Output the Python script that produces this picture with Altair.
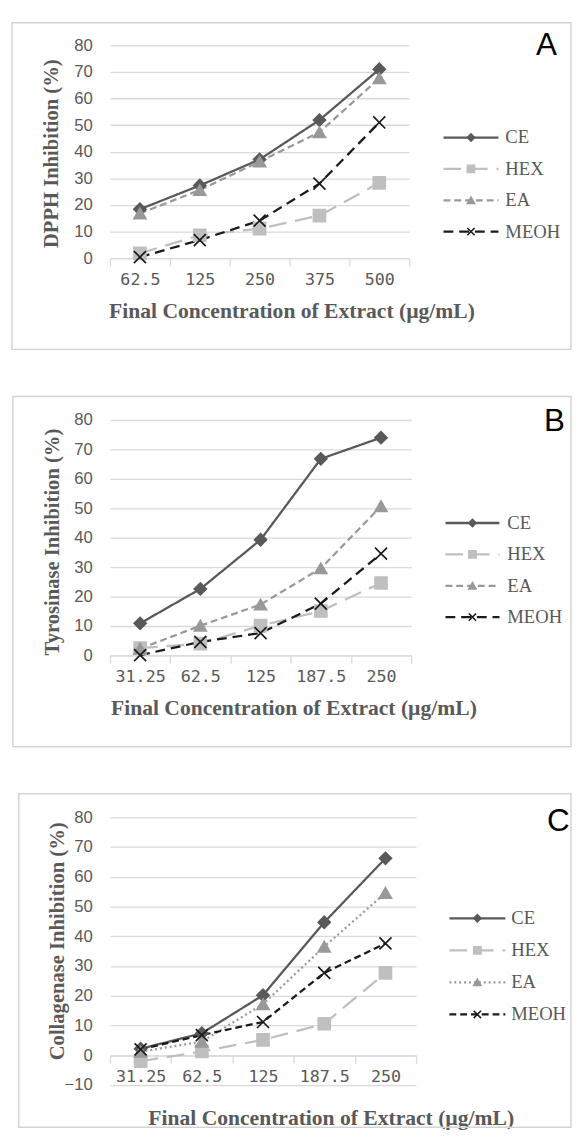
import altair as alt
import pandas as pd

series = ["CE", "HEX", "EA", "MEOH"]
conc_A = ["62.5", "125", "250", "375", "500"]
conc_BC = ["31.25", "62.5", "125", "187.5", "250"]

# Panel A: DPPH inhibition (%)
dpph_CE = [18.4, 27.3, 37.1, 51.9, 71.0]
dpph_HEX = [1.8, 8.6, 11.1, 16.0, 28.3]
dpph_EA = [16.8, 25.6, 36.3, 47.3, 67.6]
dpph_MEOH = [0.4, 6.8, 14.1, 28.0, 51.0]

# Panel B: Tyrosinase inhibition (%)
tyr_CE = [10.9, 22.6, 39.3, 66.8, 74.0]
tyr_HEX = [2.5, 4.0, 10.1, 15.1, 24.6]
tyr_EA = [2.3, 10.1, 17.3, 29.6, 50.7]
tyr_MEOH = [0.1, 4.6, 7.6, 17.6, 34.6]

# Panel C: Collagenase inhibition (%)
col_CE = [2.2, 7.4, 20.2, 44.7, 66.2]
col_HEX = [-2.0, 1.3, 5.2, 10.6, 27.7]
col_EA = [1.2, 4.6, 17.2, 36.5, 54.6]
col_MEOH = [2.0, 6.8, 11.2, 27.7, 37.6]

x_title = "Final Concentration  of Extract  (µg/mL)"

XPATH = "M-1,-1L1,1M-1,1L1,-1"
COLORS = ["#595959", "#bfbfbf", "#999999", "#1a1a1a"]
FILLS = ["#595959", "#bfbfbf", "#999999", "transparent"]
SHAPES = ["diamond", "square", "triangle-up", XPATH]
GRID = "#d9d9d9"
TXT = "#595959"


def long_df(conc, vals):
    rows = []
    for s, v in zip(series, vals):
        for i, (c, y) in enumerate(zip(conc, v)):
            rows.append({"series": s, "conc": c, "idx": i, "value": y})
    return pd.DataFrame(rows)


def panel(conc, vals, y_title, y_domain, y_values, W, H, dashes, p):
    df = long_df(conc, vals)
    stroke_s = alt.Scale(domain=series, range=COLORS)
    dash_s = alt.Scale(domain=series, range=dashes)
    shape_s = alt.Scale(domain=series, range=SHAPES)
    fill_s = alt.Scale(domain=series, range=FILLS)

    x_enc = alt.X(
        "conc:N", sort=conc,
        scale=alt.Scale(type="band", domain=conc, paddingInner=0, paddingOuter=0),
        axis=alt.Axis(
            title=x_title, labelAngle=0, tickBand="extent", grid=False,
            domainColor=GRID, domainWidth=1.3, tickColor=GRID, tickWidth=1.3, tickSize=8,
            labelFont="DejaVu Sans Mono", labelFontSize=17, labelColor=TXT, labelPadding=6,
            titleFont="Liberation Serif", titleFontWeight="bold", titleFontSize=22,
            titleColor=TXT, titleX=p["tx"], titleY=p["ty"], titleAlign="center",
            titleBaseline="middle", offset=p["xoff"],
        ),
    )
    y_enc = alt.Y(
        "value:Q",
        scale=alt.Scale(domain=y_domain, nice=False, zero=False),
        axis=alt.Axis(
            values=y_values, grid=True, gridColor=GRID, gridWidth=1.3, domain=False, ticks=False,
            labelFont="Liberation Sans", labelFontSize=17, labelColor=TXT, labelPadding=18,
            title=y_title, titleFont="Liberation Serif", titleFontWeight="bold",
            titleFontSize=21, titleColor=TXT, titleX=p["yx"], titleY=p["yy"],
            titleAngle=-90, titleBaseline="middle", titleAlign="center",
        ),
    )
    lines = alt.Chart(df).mark_line(strokeWidth=2.3).encode(
        x=x_enc, y=y_enc,
        stroke=alt.Stroke("series:N", scale=stroke_s, legend=None),
        strokeDash=alt.StrokeDash("series:N", scale=dash_s, legend=None),
        order=alt.Order("idx:Q"),
    )
    pts = alt.Chart(df).mark_point(filled=True, opacity=1, size=150, strokeWidth=1.7).encode(
        x=x_enc, y=y_enc,
        shape=alt.Shape("series:N", scale=shape_s, legend=None),
        fill=alt.Fill("series:N", scale=fill_s, legend=None),
        stroke=alt.Stroke("series:N", scale=stroke_s, legend=None),
    )
    data_layer = alt.layer(lines, pts)

    leg_df = pd.DataFrame({"series": series, "rank": [0, 1, 2, 3]})
    ly = alt.Y("rank:Q", scale=alt.Scale(domain=[0, 3], range=p["lrows"]), axis=None)
    lbase = alt.Chart(leg_df).encode(y=ly)
    lrule = lbase.mark_rule(strokeWidth=2.3).encode(
        x=alt.value(p["lx0"]), x2=alt.value(p["lx1"]),
        stroke=alt.Stroke("series:N", scale=stroke_s, legend=None),
        strokeDash=alt.StrokeDash("series:N", scale=dash_s, legend=None),
    )
    lpts = lbase.mark_point(filled=True, opacity=1, size=55, strokeWidth=1.6).encode(
        x=alt.value((p["lx0"] + p["lx1"]) / 2),
        shape=alt.Shape("series:N", scale=shape_s, legend=None),
        fill=alt.Fill("series:N", scale=fill_s, legend=None),
        stroke=alt.Stroke("series:N", scale=stroke_s, legend=None),
    )
    ltxt = lbase.mark_text(align="left", baseline="middle", font="Liberation Serif",
                           fontSize=19, color=TXT).encode(
        x=alt.value(p["ltx"]), text="series:N")
    legend_layer = alt.layer(lrule, lpts, ltxt)

    box = alt.Chart(pd.DataFrame({"k": [0]})).mark_rect(
        fill="transparent", stroke="#d4d4d4", strokeWidth=1.5).encode(
        x=alt.value(p["bx0"]), x2=alt.value(p["bx1"]),
        y=alt.value(p["by0"]), y2=alt.value(p["by1"]))
    letter = alt.Chart(pd.DataFrame({"label": [p["letter"]]})).mark_text(
        font="Liberation Sans", fontSize=32, color="#000000",
        align="center", baseline="middle").encode(
        x=alt.value(p["lex"]), y=alt.value(p["ley"]), text="label:N")

    return alt.layer(box, data_layer, legend_layer, letter).resolve_scale(
        y="independent").properties(width=W, height=H)


dash_AB = [[1, 0], [18, 9], [7, 4], [10, 6]]
dash_C = [[1, 0], [18, 9], [2, 3], [7, 4]]

pA = panel(conc_A, [dpph_CE, dpph_HEX, dpph_EA, dpph_MEOH], "DPPH Inhibition  (%)",
           [0, 80], list(range(0, 81, 10)), 305, 217, dash_AB,
           dict(tx=185, ty=53, xoff=0, yx=-60, yy=110, lrows=[94, 190],
                lx0=340, lx1=396, ltx=403, bx0=-100, bx1=470, by0=-23, by1=310,
                letter="A", lex=445, ley=0))
pB = panel(conc_BC, [tyr_CE, tyr_HEX, tyr_EA, tyr_MEOH], "Tyrosinase Inhibition  (%)",
           [0, 80], list(range(0, 81, 10)), 307, 240, dash_AB,
           dict(tx=187, ty=53, xoff=0, yx=-58, yy=124, lrows=[105, 201],
                lx0=342, lx1=397, ltx=405, bx0=-99, bx1=470, by0=-24, by1=333,
                letter="B", lex=453, ley=1))
pC = panel(conc_BC, [col_CE, col_HEX, col_EA, col_MEOH], "Collagenase Inhibition  (%)",
           [-10, 80], list(range(-10, 81, 10)), 312, 273, dash_C,
           dict(tx=225, ty=64, xoff=-30.3, yx=-53, yy=126, lrows=[103, 201],
                lx0=346, lx1=403, ltx=409, bx0=-93, bx1=470, by0=-24, by1=316,
                letter="C", lex=457, ley=4))

chart = alt.vconcat(pA, pB, pC, spacing=44).resolve_scale(
    x="independent", y="independent", stroke="independent",
    strokeDash="independent", shape="independent", fill="independent",
).properties(
    padding={"left": 2, "top": 2, "right": 0, "bottom": 0}
).configure_view(stroke="transparent")

chart.save("out.html", embed_options={"renderer": "svg", "actions": False})
